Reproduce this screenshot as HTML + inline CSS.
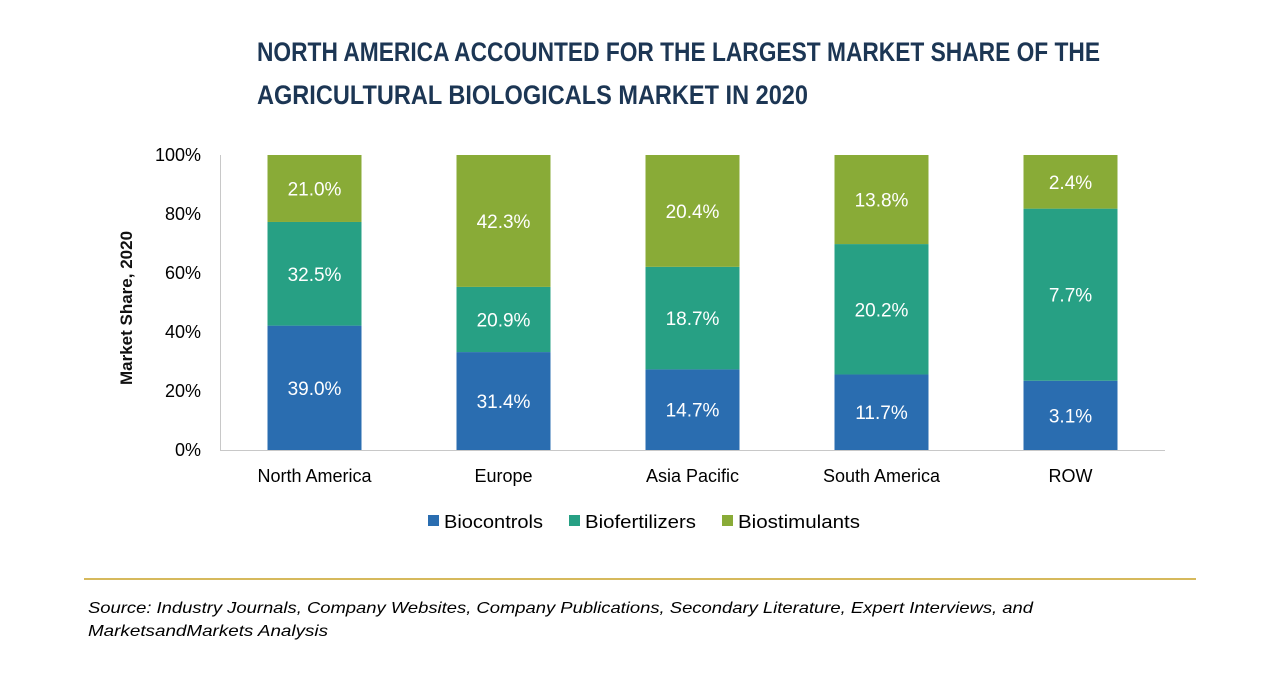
<!DOCTYPE html>
<html><head><meta charset="utf-8"><style>
body{margin:0;background:#fff;width:1280px;height:670px;overflow:hidden;font-family:"Liberation Sans",sans-serif;}
</style></head><body>
<svg id="chart" width="1280" height="670" xmlns="http://www.w3.org/2000/svg">
<text x="257" y="61" font-family="'Liberation Sans Narrow','Liberation Sans',sans-serif" font-weight="bold" font-size="27" fill="#1c3654" textLength="843" lengthAdjust="spacingAndGlyphs">NORTH AMERICA ACCOUNTED FOR THE LARGEST MARKET SHARE OF THE</text>
<text x="257" y="104" font-family="'Liberation Sans Narrow','Liberation Sans',sans-serif" font-weight="bold" font-size="27" fill="#1c3654" textLength="551" lengthAdjust="spacingAndGlyphs">AGRICULTURAL BIOLOGICALS MARKET IN 2020</text>
<text transform="translate(132,308) rotate(-90)" text-anchor="middle" font-size="17" font-weight="bold" fill="#111">Market Share, 2020</text>
<g id="yaxis"></g><g id="bars"></g><g id="xlabels"></g>
<line x1="220" y1="450.5" x2="1165" y2="450.5" stroke="#c8c8c8" stroke-width="1"/>
<line x1="220.5" y1="155" x2="220.5" y2="450" stroke="#c8c8c8" stroke-width="1"/>
<g font-size="18" fill="#000">
<rect x="428" y="515" width="11" height="11" fill="#2a6db0"/>
<text x="444" y="528" textLength="99" lengthAdjust="spacingAndGlyphs">Biocontrols</text>
<rect x="569" y="515" width="11" height="11" fill="#27a084"/>
<text x="585" y="528" textLength="111" lengthAdjust="spacingAndGlyphs">Biofertilizers</text>
<rect x="722" y="515" width="11" height="11" fill="#89ab37"/>
<text x="738" y="528" textLength="122" lengthAdjust="spacingAndGlyphs">Biostimulants</text>
</g>
<line x1="84" y1="579" x2="1196" y2="579" stroke="#c9a227" stroke-width="1.5"/>
<text x="88" y="613" font-size="16" font-style="italic" fill="#000" textLength="945" lengthAdjust="spacingAndGlyphs">Source: Industry Journals, Company Websites, Company Publications, Secondary Literature, Expert Interviews, and</text>
<text x="88" y="636" font-size="16" font-style="italic" fill="#000" textLength="240" lengthAdjust="spacingAndGlyphs">MarketsandMarkets Analysis</text>
</svg>
<script>
const categories = ["North America","Europe","Asia Pacific","South America","ROW"];
const biocontrols = [39.0,31.4,14.7,11.7,3.1];
const biofertilizers = [32.5,20.9,18.7,20.2,7.7];
const biostimulants = [21.0,42.3,20.4,13.8,2.4];
const yTicks = [0,20,40,60,80,100];
const NS="http://www.w3.org/2000/svg";
const x0=220,x1=1165,y0=450,y1=155,bw=94;
const band=(x1-x0)/categories.length;
const xC=i=>x0+band*(i+0.5);
const yS=v=>y0-(v/100)*(y0-y1);
function mk(tag,attrs,parent){const e=document.createElementNS(NS,tag);for(const k in attrs)e.setAttribute(k,attrs[k]);parent.appendChild(e);return e;}
const ya=document.getElementById('yaxis');
yTicks.forEach(t=>{const e=mk('text',{x:201,y:yS(t)+6,'text-anchor':'end','font-size':18,fill:'#000'},ya);


e.textContent=t+'%';});
const bars=document.getElementById('bars'),xl=document.getElementById('xlabels');
const series=[[biocontrols,'#2a6db0','biocontrols'],[biofertilizers,'#27a084','biofertilizers'],[biostimulants,'#89ab37','biostimulants']];
categories.forEach((c,i)=>{
  const total=biocontrols[i]+biofertilizers[i]+biostimulants[i];
  let cum=0;
  series.forEach(([arr,col,nm])=>{
    const share=arr[i]/total*100;
    const yt=yS(cum+share),yb=yS(cum);
    const r=mk('rect',{x:xC(i)-bw/2,y:yt,width:bw,height:yb-yt,fill:col},bars);
    
    
    const t=mk('text',{x:xC(i),y:(yt+yb)/2+7,'text-anchor':'middle','font-size':19,fill:'#fff'},bars);
    
    
    t.textContent=arr[i].toFixed(1)+'%';
    cum+=share;
  });
  const l=mk('text',{x:xC(i),y:482,'text-anchor':'middle','font-size':18,fill:'#000'},xl);
  
  
  l.textContent=c;
});
</script>
</body></html>
